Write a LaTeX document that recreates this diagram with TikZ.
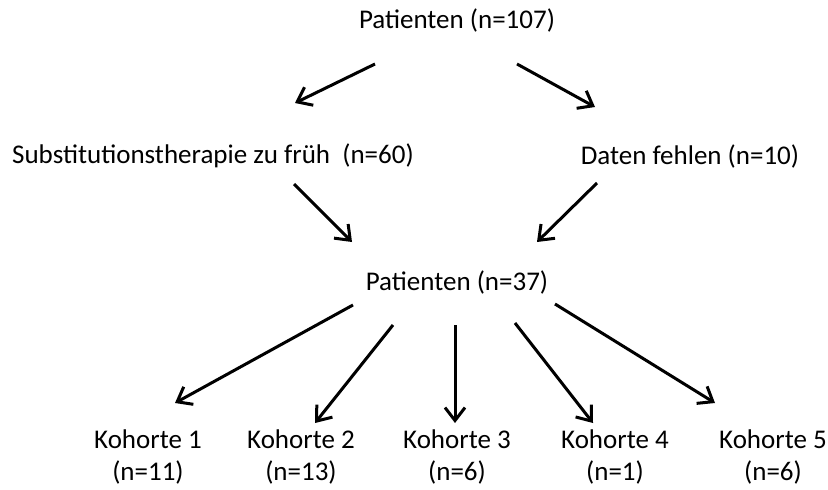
\documentclass[tikz,border=0pt]{standalone}
\usepackage{fontspec}
\setmainfont{Carlito}
\usepackage{tikz}
\usetikzlibrary{arrows.meta}

\begin{document}
\begin{tikzpicture}[x=1pt, y=-1pt]
        % Setup the style for the labels and arrows
        \tikzset{label style/.style={inner sep=0pt,
                                     align=center,
                                     font=\fontsize{27}{32}\selectfont}}
        \tikzset{arrow style/.style={line width=3pt,
                                     -{Straight Barb[length=13pt, width=20pt]}}}

        \useasboundingbox (0,0) rectangle (828,490);

        % Draw the labels
        \node[label style] at (457, 20)  (pat1)  {Patienten (n=107)};
        \node[label style] at (213, 156) (subst) {Substitutionstherapie zu früh \ (n=60)};
        \node[label style] at (690, 156) (daten) {Daten fehlen (n=10)};
        \node[label style] at (457, 282) (pat2)  {Patienten (n=37)};
        \node[label style] at (148, 457) (koh1)  {Kohorte 1\\(n=11)};
        \node[label style] at (301, 457) (koh2)  {Kohorte 2\\(n=13)};
        \node[label style] at (457, 457) (koh3)  {Kohorte 3\\(n=6)};
        \node[label style] at (615, 457) (koh4)  {Kohorte 4\\(n=1)};
        \node[label style] at (773, 457) (koh5)  {Kohorte 5\\(n=6)};

        % Connect the labels with arrows
        \path[arrow style]
            ([shift={(-82,44)}]pat1.center)  edge ([shift={(82,-53)}]subst.center)
            ([shift={(60,44)}]pat1.center)   edge ([shift={(-95,-49)}]daten.center)
            ([shift={(81,28)}]subst.center)  edge ([shift={(-105,-40)}]pat2.center)
            ([shift={(-93,27)}]daten.center) edge ([shift={(80,-40)}]pat2.center)
            ([shift={(-104,23)}]pat2.center) edge ([shift={(27,-54)}]koh1.center)
            ([shift={(-64,43)}]pat2.center)  edge ([shift={(14,-34)}]koh2.center)
            ([shift={(-2,43)}]pat2.center)   edge ([shift={(-2,-34)}]koh3.center)
            ([shift={(58,41)}]pat2.center)   edge ([shift={(-22,-34)}]koh4.center)
            ([shift={(98,22)}]pat2.center)   edge ([shift={(-58,-54)}]koh5.center);
\end{tikzpicture}
\end{document}
